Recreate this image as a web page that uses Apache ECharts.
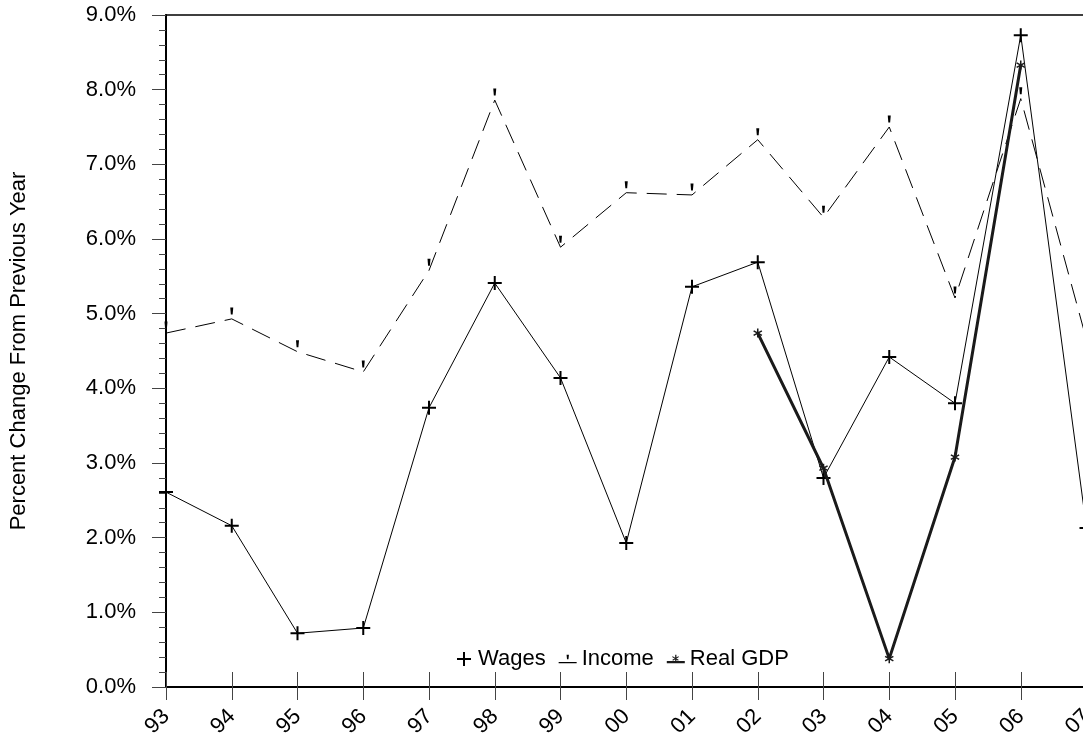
<!DOCTYPE html>
<html>
<head>
<meta charset="utf-8">
<script src="https://cdn.jsdelivr.net/npm/echarts@6/dist/echarts.min.js"></script>
<style>
html,body{margin:0;padding:0;background:#fff;}
#chart{width:1083px;height:738px;}
</style>
</head>
<body>
<div id="chart"></div>
<script>
var categories = ['93','94','95','96','97','98','99','00','01','02','03','04','05','06','07'];
var wages  = [2.61, 2.16, 0.72, 0.79, 3.74, 5.41, 4.14, 1.93, 5.36, 5.69, 2.80, 4.42, 3.80, 8.73, 2.13];
var income = [4.74, 4.93, 4.49, 4.22, 5.58, 7.86, 5.89, 6.62, 6.59, 7.33, 6.29, 7.50, 5.21, 7.88, 4.65];
var realGdp = [null, null, null, null, null, null, null, null, null, 4.74, 2.93, 0.38, 3.08, 8.33, null];
var yTicks = [0, 1, 2, 3, 4, 5, 6, 7, 8, 9];

var FONT = '"Liberation Sans", Arial, sans-serif';
var plusPath = 'path://M6,0h2v6h6v2h-6v6h-2v-6h-6v-2h6z';
var tickPath = 'path://M0,0h3l-0.6,7h-1.8z';
var starPath = 'path://M4.2,0h1.6v10h-1.6z M1.07,1.81L9.73,6.81L8.93,8.19L0.27,3.19z M9.73,3.19L1.07,8.19L0.27,6.81L8.93,1.81z';
// legend icons
var legIncome = 'path://M0,11h20v1.2h-20z M8.8,3h2.6l-0.5,5h-1.6z';
var legGdp = 'path://M0,9h20v2.4h-20z M9.3,2h1.4v8h-1.4z M6.5,3.6L13.2,7.6L12.6,8.6L5.9,4.6z M13.5,4.6L6.8,8.6L6.2,7.6L12.9,3.6z';

var chart = echarts.init(document.getElementById('chart'), null, {renderer: 'canvas'});
chart.setOption({
  animation: false,
  backgroundColor: '#ffffff',
  textStyle: {fontFamily: FONT},
  grid: {left: 166, right: -3.5, top: 15, bottom: 51, show: true, borderColor: '#000', borderWidth: 1.5, backgroundColor: 'transparent', outerBoundsMode: 'none', containLabel: false},
  legend: {
    left: 452, top: 643,
    itemWidth: 18, itemHeight: 14, itemGap: 13,
    textStyle: {fontFamily: FONT, fontSize: 22, color: '#000', padding: [0,0,0,0]},
    data: [
      {name: 'Wages', icon: plusPath, itemWidth: 15},
      {name: 'Income', icon: legIncome},
      {name: 'Real GDP', icon: legGdp}
    ]
  },
  xAxis: [{
    type: 'category', data: categories, boundaryGap: false,
    axisLine: {lineStyle: {color: '#000', width: 2}},
    axisTick: {show: true, inside: false, length: 13, alignWithLabel: true, lineStyle: {color: '#444', width: 1}},
    axisLabel: {interval: 0, rotate: 45, margin: 26, fontFamily: FONT, fontSize: 22, color: '#000'},
    splitLine: {show: false}
  }, {
    type: 'category', data: categories, boundaryGap: false, position: 'bottom',
    axisLine: {show: false},
    axisTick: {show: true, inside: true, length: 15, lineStyle: {color: '#444', width: 1}},
    axisLabel: {show: false},
    splitLine: {show: false}
  }],
  yAxis: {
    type: 'value', min: yTicks[0], max: yTicks[yTicks.length-1], interval: 1,
    name: 'Percent Change From Previous Year', nameLocation: 'middle', nameGap: 136, nameRotate: 90,
    nameTextStyle: {fontFamily: FONT, fontSize: 22, color: '#000'},
    axisLine: {show: true, lineStyle: {color: '#000', width: 2}},
    axisTick: {show: true, length: 14, lineStyle: {color: '#444', width: 1}},
    minorTick: {show: true, splitNumber: 5, length: 7, lineStyle: {color: '#444', width: 1}},
    axisLabel: {margin: 30, fontFamily: FONT, fontSize: 22, color: '#000', formatter: function(v){return v.toFixed(1) + '%';}},
    splitLine: {show: false}
  },
  series: [{
    name: 'Wages', type: 'line', data: wages, xAxisIndex: 0,
    symbol: plusPath, symbolSize: 14, showAllSymbol: true,
    lineStyle: {color: '#000', width: 1},
    itemStyle: {color: '#000'},
    z: 3
  }, {
    name: 'Income', type: 'line', data: income, xAxisIndex: 0,
    symbol: tickPath, symbolSize: [3, 7], symbolOffset: [0, -8], showAllSymbol: true,
    lineStyle: {color: '#000', width: 1, type: [20, 10]},
    itemStyle: {color: '#000'},
    z: 2
  }, {
    name: 'Real GDP', type: 'line', data: realGdp, xAxisIndex: 0,
    symbol: starPath, symbolSize: 9, showAllSymbol: true, connectNulls: false,
    lineStyle: {color: '#1a1a1a', width: 3},
    itemStyle: {color: '#1a1a1a'},
    z: 4
  }]
});
</script>
</body>
</html>
